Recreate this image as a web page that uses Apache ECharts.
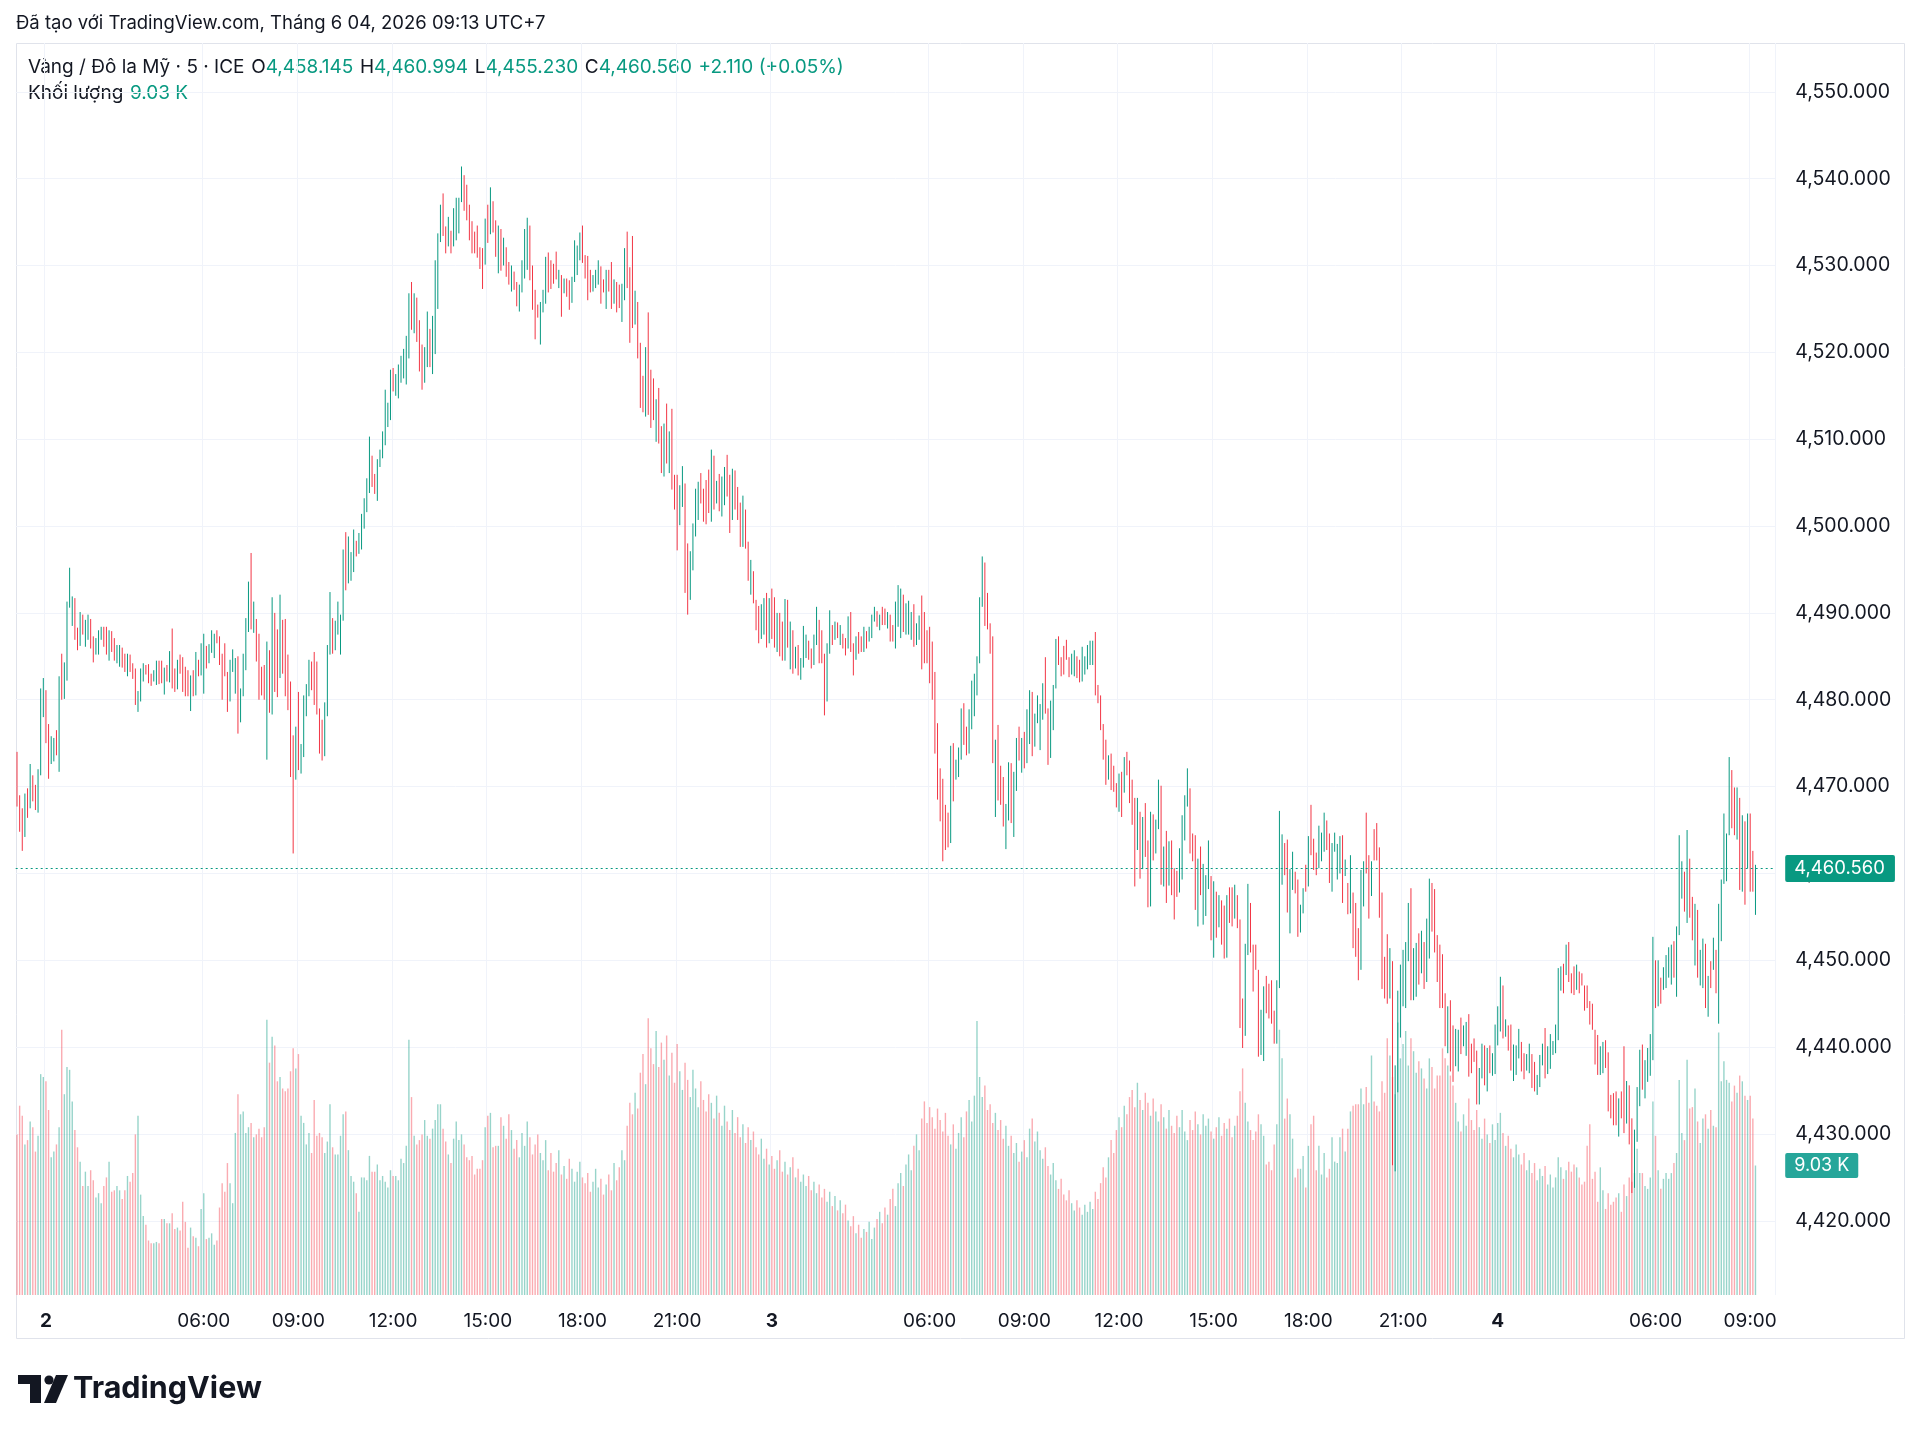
<!DOCTYPE html>
<html>
<head>
<meta charset="utf-8">
<title>XAU/USD 5m</title>
<script src="https://cdn.jsdelivr.net/npm/echarts@6/dist/echarts.min.js"></script>
<style>
  html, body { margin: 0; padding: 0; background: #fff; }
  #chart { width: 1920px; height: 1433px; }
</style>
</head>
<body>
<div id="chart"></div>
<script>
// trading sessions (UTC+7), 5-minute bars, daily break 04:00-05:00
const sessions = [
  [1, '23:05', '23:55'],
  [2, '00:00', '03:55'],
  [2, '05:00', '23:55'],
  [3, '00:00', '03:55'],
  [3, '05:00', '23:55'],
  [4, '00:00', '03:55'],
  [4, '05:00', '09:10'],
]
const shownTimes = ['00:00', '06:00', '09:00', '12:00', '15:00', '18:00', '21:00']
const priceTicks = [4420, 4430, 4440, 4450, 4460, 4470, 4480, 4490, 4500, 4510, 4520, 4530, 4540, 4550]

// [open, high, low, close]
const ohlc = [
  [4473.5,4474.0,4467.7,4468.5],[4468.5,4469.0,4464.8,4465.5],[4466.0,4467.5,4462.6,4463.5],[4464.5,4469.2,4464.2,4468.8],[4469.0,4469.8,4466.4,4467.0],[4467.5,4472.6,4467.5,4472.0],[4471.0,4471.3,4468.3,4469.0],[4469.5,4470.2,4467.3,4468.0],
  [4468.0,4472.0,4467.0,4471.5],[4471.5,4481.3,4471.3,4480.5],[4479.5,4482.5,4478.0,4482.0],[4481.0,4481.1,4475.0,4475.5],[4477.0,4477.2,4470.9,4472.0],[4472.8,4475.8,4472.6,4475.5],[4473.2,4475.6,4472.9,4475.0],[4476.0,4476.5,4473.6,4474.0],
  [4474.0,4482.7,4471.7,4482.0],[4484.5,4485.3,4480.0,4481.0],[4481.0,4484.3,4480.1,4484.0],[4483.5,4491.3,4482.2,4491.0],[4491.0,4495.2,4490.6,4495.0],[4489.0,4491.9,4488.5,4491.5],[4491.5,4491.7,4486.9,4487.5],[4488.0,4488.3,4485.7,4486.0],
  [4486.5,4490.1,4486.2,4489.5],[4489.5,4489.8,4487.5,4488.0],[4486.5,4489.2,4486.1,4489.0],[4487.0,4489.8,4486.9,4489.5],[4489.0,4489.3,4485.9,4486.5],[4487.0,4487.3,4484.3,4484.8],[4485.2,4487.1,4485.2,4486.8],[4485.5,4488.0,4485.2,4487.8],
  [4487.0,4488.4,4486.9,4488.2],[4488.2,4488.4,4486.1,4486.5],[4488.0,4488.4,4485.2,4485.5],[4485.0,4488.0,4484.5,4487.5],[4487.5,4487.9,4485.5,4485.8],[4486.8,4487.1,4484.5,4485.0],[4484.5,4486.3,4484.2,4486.0],[4484.0,4486.3,4483.8,4486.0],
  [4485.8,4486.0,4483.7,4484.0],[4485.0,4485.3,4483.2,4483.5],[4483.0,4485.3,4482.7,4485.0],[4485.0,4485.2,4483.2,4483.5],[4484.0,4484.2,4482.4,4482.6],[4483.2,4483.6,4479.4,4480.5],[4479.0,4481.0,4478.6,4480.8],[4480.5,4483.6,4479.8,4483.2],
  [4482.5,4484.2,4482.1,4484.0],[4483.8,4484.0,4482.9,4483.0],[4484.0,4484.1,4481.9,4482.2],[4482.8,4483.0,4481.6,4481.8],[4482.2,4483.4,4482.1,4483.2],[4482.0,4484.5,4481.7,4484.2],[4484.2,4484.5,4481.8,4482.0],[4484.2,4484.5,4481.9,4482.3],
  [4481.0,4483.7,4480.6,4483.4],[4483.8,4484.0,4482.1,4482.5],[4482.5,4485.6,4482.0,4485.3],[4485.5,4488.2,4481.3,4482.0],
  // 60
  [4483.5,4483.6,4480.9,4481.0],[4481.3,4484.6,4481.2,4484.3],[4485.0,4485.2,4483.0,4483.2],[4484.5,4484.9,4480.9,4481.5],[4483.5,4483.8,4480.4,4481.0],[4483.0,4483.4,4480.4,4480.8],[4480.8,4482.8,4478.7,4482.5],[4483.0,4483.4,4480.4,4480.6],
  [4480.8,4485.5,4480.5,4485.2],[4484.5,4484.6,4482.7,4483.0],[4483.0,4486.5,4482.8,4486.2],[4482.0,4487.6,4480.7,4487.4],[4486.0,4486.2,4483.6,4484.0],[4484.3,4486.4,4484.2,4486.2],[4485.6,4488.0,4485.4,4487.8],[4485.2,4487.6,4484.8,4487.3],
  [4487.8,4488.0,4486.5,4486.8],[4487.0,4487.3,4484.0,4484.5],[4485.0,4485.3,4480.0,4481.0],[4486.0,4486.5,4482.7,4483.0],[4483.0,4483.2,4478.6,4479.5],[4480.0,4484.6,4479.8,4484.3],[4483.5,4485.8,4483.2,4485.6],[4481.0,4484.8,4480.7,4484.5],
  [4484.8,4485.0,4476.1,4477.0],[4477.5,4481.3,4477.4,4481.0],[4480.6,4485.3,4480.4,4485.0],[4484.0,4489.4,4483.4,4489.0],[4488.5,4493.6,4487.8,4493.4],[4493.5,4496.9,4488.1,4489.0],[4488.0,4491.3,4487.7,4491.0],[4489.0,4489.3,4484.4,4485.0],
  [4487.0,4487.6,4480.0,4481.0],[4483.5,4483.8,4480.5,4481.0],[4483.6,4484.0,4480.0,4480.5],[4480.5,4486.7,4473.1,4485.8],[4485.5,4485.7,4478.5,4479.0],[4478.8,4491.8,4478.3,4491.3],[4490.0,4490.0,4480.9,4481.5],[4488.0,4488.1,4480.3,4481.0],
  [4483.0,4492.1,4482.5,4491.8],[4489.0,4489.2,4483.0,4486.5],[4489.0,4489.3,4480.4,4481.0],[4485.0,4485.2,4478.8,4479.5],[4481.8,4482.1,4471.1,4471.8],[4475.0,4475.9,4462.3,4466.0],[4471.0,4476.9,4470.8,4476.5],[4480.5,4480.9,4471.9,4472.5],
  [4472.0,4474.9,4471.5,4474.5],[4474.0,4480.5,4473.4,4480.2],[4478.3,4481.8,4478.1,4481.5],[4480.6,4484.6,4480.4,4484.3],[4484.3,4484.4,4481.1,4481.5],[4485.0,4485.5,4479.4,4480.0],[4484.0,4484.4,4478.3,4479.0],[4478.8,4479.0,4473.8,4474.5],
  [4477.5,4477.7,4473.0,4473.5],[4474.0,4479.7,4473.5,4479.5],[4478.5,4486.3,4478.1,4486.0],[4485.5,4492.4,4485.2,4492.0],
  // 120
  [4489.0,4489.4,4485.3,4486.0],[4486.0,4489.1,4485.7,4489.0],[4488.0,4491.3,4487.5,4491.0],[4486.0,4489.8,4485.2,4489.5],[4489.5,4497.3,4489.1,4497.0],[4497.5,4499.3,4492.6,4493.0],[4493.5,4498.8,4493.4,4498.0],[4494.0,4497.0,4493.7,4496.5],
  [4495.0,4499.6,4494.7,4499.0],[4498.0,4498.3,4496.5,4496.6],[4496.8,4499.2,4496.8,4499.0],[4497.5,4501.4,4497.3,4501.0],[4500.0,4503.2,4499.7,4503.0],[4502.0,4505.5,4501.6,4505.3],[4504.5,4510.3,4503.8,4510.0],[4508.0,4508.1,4504.5,4505.0],
  [4505.8,4506.0,4503.7,4504.0],[4503.5,4507.7,4502.9,4507.5],[4507.0,4508.8,4506.8,4508.6],[4508.0,4510.9,4507.8,4510.7],[4509.5,4515.7,4509.3,4515.5],[4511.5,4514.2,4511.4,4514.0],[4512.5,4518.0,4512.2,4517.8],[4518.0,4518.2,4515.5,4515.6],
  [4515.2,4517.5,4515.0,4517.2],[4515.0,4518.6,4514.7,4518.3],[4516.8,4519.6,4516.5,4519.4],[4517.3,4520.4,4517.0,4520.2],[4516.8,4521.9,4516.3,4521.7],[4520.0,4526.8,4519.3,4526.5],[4527.8,4528.1,4522.6,4523.0],[4522.5,4526.8,4522.2,4526.5],
  [4526.0,4526.3,4521.2,4521.5],[4523.5,4523.7,4517.8,4518.3],[4520.5,4520.9,4515.7,4516.0],[4517.0,4520.6,4516.5,4520.3],[4518.5,4524.7,4518.3,4524.5],[4522.5,4522.7,4518.3,4518.8],[4518.0,4524.2,4517.5,4524.0],[4520.5,4530.6,4519.8,4530.3],
  [4525.5,4533.7,4525.0,4533.5],[4533.0,4537.0,4532.7,4536.8],[4538.0,4538.3,4533.4,4534.0],[4534.3,4534.5,4531.4,4532.0],[4532.5,4535.6,4532.2,4535.3],[4533.8,4534.0,4531.4,4531.8],[4532.5,4536.6,4532.2,4536.3],[4533.5,4537.8,4532.9,4537.5],
  [4534.0,4537.8,4533.7,4537.5],[4537.5,4541.4,4537.3,4541.0],[4540.2,4540.4,4536.3,4536.8],[4539.0,4539.3,4535.2,4535.5],[4536.8,4537.0,4532.9,4533.2],[4535.0,4535.1,4531.4,4531.6],[4533.7,4533.9,4531.4,4531.6],[4534.3,4534.6,4530.9,4531.0],
  [4532.0,4532.1,4529.6,4529.8],[4531.8,4532.0,4527.3,4527.8],[4530.5,4535.4,4530.1,4535.0],
  // 179
  [4536.5,4537.0,4532.6,4533.0],[4534.0,4539.0,4533.6,4538.8],[4537.2,4537.4,4533.8,4534.0],[4535.0,4535.2,4531.0,4531.5],[4529.5,4534.6,4529.1,4534.3],[4534.0,4534.2,4529.4,4529.8],[4530.2,4533.2,4530.0,4533.0],[4532.0,4532.1,4528.7,4529.0],
  [4530.3,4530.4,4527.8,4528.0],[4527.3,4530.0,4527.0,4529.8],[4529.2,4529.3,4527.2,4527.4],[4528.0,4528.1,4525.3,4525.6],[4525.0,4527.8,4524.7,4527.5],[4527.0,4530.6,4526.9,4530.4],[4528.7,4534.2,4528.5,4534.0],[4530.0,4535.5,4529.5,4535.3],
  [4534.5,4534.6,4528.3,4528.7],[4529.8,4530.0,4524.9,4525.3],[4527.0,4527.2,4521.5,4522.0],[4525.3,4525.5,4524.0,4524.2],[4521.5,4525.8,4520.9,4525.5],[4524.8,4527.2,4524.6,4527.0],[4526.0,4531.0,4525.6,4530.8],[4531.2,4531.5,4526.9,4527.2],
  [4530.4,4530.6,4527.3,4527.5],[4530.0,4530.2,4527.9,4528.1],[4531.3,4531.6,4528.4,4528.6],[4527.6,4529.5,4527.4,4529.3],[4528.8,4528.9,4524.1,4524.5],[4527.0,4528.5,4526.8,4528.3],[4528.3,4528.5,4526.4,4526.6],[4528.0,4528.3,4524.9,4525.2],
  [4526.0,4528.7,4525.7,4528.5],[4528.5,4532.9,4528.1,4532.7],[4529.0,4532.3,4528.9,4532.0],[4531.0,4533.8,4530.6,4533.6],[4534.4,4534.6,4530.3,4530.5],[4531.0,4531.2,4528.5,4528.7],[4530.9,4531.1,4526.0,4526.5],[4529.3,4529.5,4526.9,4527.0],
  [4527.2,4528.9,4527.0,4528.7],[4527.6,4529.5,4527.4,4529.3],[4528.0,4530.6,4527.8,4530.4],[4529.7,4529.9,4525.6,4526.0],[4528.2,4528.4,4526.9,4527.0],[4525.3,4529.5,4525.0,4529.2],[4529.3,4529.5,4527.0,4527.2],[4530.2,4530.4,4525.0,4525.4],
  [4525.8,4528.4,4525.6,4528.2],[4528.0,4528.1,4524.6,4524.8],[4527.6,4527.8,4525.1,4525.3],[4523.8,4527.9,4523.5,4527.7],[4526.3,4532.0,4526.0,4531.8],[4533.5,4533.9,4527.4,4527.8],[4528.0,4529.8,4521.1,4522.0],[4531.0,4533.4,4522.8,4523.5],
  [4523.5,4527.1,4523.2,4526.8],[4525.6,4525.8,4519.3,4519.8],[4520.5,4521.1,4513.6,4514.5],
  // 238
  [4517.0,4517.3,4513.1,4513.6],[4513.2,4520.6,4512.6,4520.0],[4522.0,4524.6,4512.8,4514.0],[4517.5,4518.0,4511.3,4512.0],[4516.5,4517.0,4512.2,4512.8],[4510.2,4514.6,4509.7,4514.0],[4515.3,4515.9,4509.5,4510.0],[4511.0,4511.5,4506.1,4506.7],
  [4506.3,4511.8,4505.7,4511.2],[4513.5,4514.1,4507.2,4508.0],[4506.8,4510.9,4506.1,4510.3],[4512.8,4513.5,4504.2,4505.0],[4505.5,4505.9,4501.9,4502.4],[4505.2,4505.9,4497.2,4498.2],[4500.6,4504.7,4500.1,4504.2],[4502.8,4506.9,4502.2,4506.3],
  [4504.3,4504.9,4492.3,4493.5],[4497.3,4498.0,4489.8,4490.8],[4492.0,4497.1,4491.5,4496.5],[4495.5,4500.3,4494.9,4499.7],[4499.4,4504.3,4498.8,4503.7],[4501.2,4505.1,4500.7,4504.5],[4505.7,4506.1,4502.6,4503.0],[4503.8,4504.3,4500.5,4501.0],
  [4504.7,4505.3,4500.2,4500.8],[4506.0,4506.5,4501.5,4502.0],[4501.3,4508.8,4500.5,4508.0],[4507.5,4508.1,4501.9,4502.5],[4502.9,4505.2,4502.6,4504.9],[4505.5,4506.0,4501.7,4502.2],[4501.6,4505.7,4501.1,4505.1],[4502.9,4506.8,4502.4,4506.3],
  [4507.6,4508.2,4503.4,4504.0],[4505.2,4505.9,4499.2,4500.0],[4501.3,4506.6,4500.7,4506.0],[4505.9,4506.4,4501.9,4502.4],[4504.0,4504.5,4500.7,4501.2],[4502.1,4502.7,4497.6,4498.2],[4498.2,4503.5,4497.6,4502.9],[4501.4,4501.9,4497.4,4497.9],
  [4497.7,4498.2,4493.7,4494.2],[4492.6,4496.1,4492.1,4495.6],[4494.3,4494.8,4491.1,4491.6],[4491.2,4491.5,4488.0,4488.5],[4490.5,4490.8,4486.5,4487.5],[4487.5,4491.0,4487.0,4490.5],[4490.0,4491.7,4487.5,4491.0],[4491.0,4492.3,4486.0,4487.0],
  [4487.0,4491.7,4486.5,4490.5],[4490.5,4492.8,4487.0,4488.0],[4488.0,4491.8,4486.0,4486.5],[4486.5,4490.0,4485.5,4489.0],[4489.0,4490.0,4485.0,4486.0],[4487.0,4489.0,4484.5,4485.0],[4485.0,4491.6,4484.5,4490.5],[4490.5,4491.5,4486.0,4486.5],
  [4486.5,4489.0,4483.5,4487.5],[4487.5,4488.0,4483.0,4484.0],
  // 296
  [4484.0,4486.1,4483.6,4485.7],[4485.9,4486.3,4482.8,4483.3],[4482.7,4484.8,4482.3,4484.4],[4484.3,4488.5,4483.7,4488.0],[4485.2,4487.5,4484.8,4487.1],[4486.5,4486.8,4484.6,4485.0],[4485.5,4485.9,4483.6,4484.0],[4484.4,4487.5,4484.0,4487.1],
  [4486.8,4490.7,4486.3,4490.2],[4488.7,4489.2,4484.2,4484.8],[4487.5,4488.0,4484.2,4484.7],[4484.7,4485.3,4478.2,4479.0],[4480.5,4486.5,4479.8,4485.8],[4485.9,4490.3,4485.3,4489.7],[4488.3,4488.6,4486.3,4486.6],[4487.2,4489.0,4486.9,4488.7],
  [4488.6,4488.9,4487.1,4487.4],[4486.6,4488.6,4486.3,4488.3],[4487.3,4487.6,4485.9,4486.2],[4486.8,4487.1,4485.1,4485.4],[4486.3,4489.6,4485.9,4489.2],[4489.6,4490.1,4485.5,4486.0],[4486.1,4486.5,4482.8,4483.3],[4484.9,4487.3,4484.6,4487.0],
  [4487.5,4487.8,4485.3,4485.6],[4487.0,4487.3,4485.5,4485.8],[4485.8,4488.4,4485.5,4488.1],[4487.6,4487.9,4485.9,4486.2],[4486.9,4488.4,4486.7,4488.2],[4487.4,4489.8,4487.1,4489.5],[4489.2,4490.7,4489.0,4490.5],[4490.0,4490.2,4488.4,4488.7],
  [4488.3,4489.8,4488.0,4489.6],[4490.4,4490.7,4488.6,4488.9],[4490.2,4490.5,4488.6,4488.9],[4488.5,4490.1,4488.2,4489.8],[4489.5,4489.8,4486.7,4487.1],[4488.3,4488.6,4486.7,4487.0],[4486.5,4491.3,4485.9,4490.7],[4488.9,4493.2,4488.4,4492.7],
  [4487.7,4492.8,4487.1,4492.2],[4491.7,4492.1,4487.8,4488.3],[4487.9,4491.1,4487.5,4490.7],[4487.9,4491.4,4487.5,4491.0],[4487.3,4490.1,4486.9,4489.7],[4490.5,4491.0,4486.1,4486.6],[4486.6,4488.8,4486.3,4488.5],[4487.2,4489.7,4486.9,4489.4],
  [4491.2,4492.0,4483.5,4484.3],[4489.5,4490.1,4484.2,4484.8],[4487.6,4488.0,4484.2,4484.6],[4487.7,4488.4,4481.9,4482.6],[4486.0,4486.7,4480.0,4480.7],[4482.3,4483.2,4473.8,4474.8],[4476.4,4477.3,4468.5,4469.4],[4471.5,4472.1,4466.0,4466.6],
  [4470.0,4470.9,4461.4,4462.4],[4467.4,4467.9,4462.7,4463.2],[4466.5,4467.0,4463.0,4463.6],[4464.6,4474.7,4463.5,4473.6],[4474.3,4475.0,4468.3,4469.0],
  // 357
  [4471.0,4473.1,4470.8,4472.9],[4471.4,4474.5,4471.1,4474.2],[4473.7,4479.0,4473.1,4478.4],[4479.1,4479.6,4474.8,4475.3],[4476.6,4476.9,4473.6,4473.9],[4474.3,4478.9,4473.8,4478.4],[4477.2,4482.2,4476.6,4481.6],[4478.6,4483.0,4478.1,4482.5],
  [4481.0,4485.0,4480.5,4484.5],[4485.0,4491.8,4484.2,4491.0],[4491.3,4496.5,4490.7,4495.9],[4495.1,4495.8,4488.5,4489.2],[4491.9,4492.3,4488.1,4488.5],[4488.4,4488.8,4485.3,4485.7],[4485.8,4487.3,4472.7,4474.2],[4467.4,4475.4,4466.5,4474.5],
  [4476.2,4477.1,4468.4,4469.3],[4471.9,4472.4,4467.9,4468.4],[4470.5,4471.1,4465.4,4466.0],[4463.3,4468.0,4462.8,4467.5],[4466.8,4472.8,4466.1,4472.1],[4472.0,4472.7,4465.8,4466.5],[4465.0,4471.7,4464.2,4470.9],[4470.1,4475.6,4469.5,4475.0],
  [4476.5,4476.9,4473.0,4473.4],[4472.0,4475.6,4471.6,4475.2],[4475.9,4476.3,4472.1,4472.5],[4473.3,4478.9,4472.7,4478.3],[4475.5,4481.1,4474.9,4480.5],[4480.2,4480.9,4473.5,4474.2],[4475.0,4478.4,4474.6,4478.0],[4477.6,4480.5,4477.3,4480.2],
  [4474.7,4479.5,4474.2,4479.0],[4478.1,4481.9,4477.7,4481.5],[4484.2,4484.9,4478.4,4479.1],[4478.4,4479.0,4472.5,4473.2],[4473.9,4479.9,4473.3,4479.3],[4477.0,4481.7,4476.5,4481.2],[4481.9,4487.0,4481.3,4486.4],[4487.0,4487.3,4484.0,4484.3],
  [4484.6,4484.9,4482.7,4483.0],[4485.9,4486.2,4482.9,4483.2],[4486.6,4486.9,4484.6,4484.9],[4484.6,4484.9,4482.6,4482.9],[4483.2,4485.3,4482.9,4485.0],[4483.0,4485.7,4482.7,4485.4],[4484.7,4485.0,4482.5,4482.8],[4484.3,4484.6,4482.0,4482.3],
  [4482.5,4486.1,4482.1,4485.7],[4483.2,4485.0,4482.9,4484.7],[4483.8,4486.3,4483.5,4486.0],[4484.3,4486.8,4484.0,4486.5],[4484.3,4486.8,4484.0,4486.5],[4487.1,4487.8,4480.5,4481.2],[4481.4,4481.7,4479.6,4479.9],[4480.1,4480.5,4476.5,4476.9],
  [4476.8,4477.2,4473.1,4473.5],[4474.9,4475.4,4470.2,4470.7],[4471.1,4473.6,4470.8,4473.3],
  // 416
  [4473.4,4473.8,4469.6,4470.0],[4472.1,4472.4,4469.4,4469.7],[4470.1,4470.4,4467.6,4467.9],[4467.5,4471.5,4467.1,4471.1],[4471.2,4471.7,4466.5,4467.0],[4469.7,4473.4,4469.3,4473.0],[4473.7,4474.0,4471.3,4471.6],[4472.5,4473.0,4468.1,4468.6],
  [4470.3,4470.8,4465.6,4466.1],[4467.7,4468.7,4458.5,4459.5],[4463.3,4468.7,4462.7,4468.1],[4466.3,4467.1,4459.4,4460.2],[4461.1,4466.5,4460.5,4465.9],[4467.5,4468.1,4461.9,4462.5],[4463.0,4463.8,4456.1,4456.9],[4457.3,4467.1,4456.2,4466.0],
  [4466.3,4466.8,4461.5,4462.0],[4462.7,4466.2,4462.3,4465.8],[4465.7,4470.8,4465.1,4470.2],[4469.0,4470.1,4458.7,4459.8],[4459.0,4463.1,4458.5,4462.6],[4464.1,4464.9,4456.6,4457.4],[4459.1,4463.7,4458.6,4463.2],[4463.2,4463.8,4457.5,4458.1],
  [4460.0,4460.6,4454.7,4455.3],[4460.0,4460.3,4457.3,4457.6],[4458.3,4462.9,4457.8,4462.4],[4460.0,4466.7,4459.3,4466.0],[4464.3,4469.0,4463.8,4468.5],[4468.1,4472.1,4467.7,4471.7],[4469.1,4469.8,4462.3,4463.0],[4464.3,4464.6,4461.4,4461.7],
  [4463.5,4464.4,4455.8,4456.7],[4454.7,4461.7,4453.9,4460.9],[4462.5,4463.1,4457.5,4458.1],[4454.8,4461.1,4454.1,4460.4],[4455.6,4459.8,4455.1,4459.3],[4458.8,4463.8,4458.2,4463.2],[4459.0,4459.7,4452.3,4453.0],[4451.2,4459.1,4450.3,4458.2],
  [4457.4,4457.9,4452.6,4453.1],[4454.2,4457.5,4453.8,4457.1],[4456.4,4456.9,4451.8,4452.3],[4455.7,4456.3,4450.2,4450.8],[4451.0,4457.5,4450.3,4456.8],[4458.0,4458.4,4454.3,4454.7],[4457.9,4458.4,4453.9,4454.4],[4455.2,4458.7,4454.8,4458.3],
  [4457.1,4457.5,4453.7,4454.1],[4453.5,4454.7,4442.2,4443.5],[4445.0,4445.6,4439.9,4440.5],[4442.4,4451.9,4441.3,4450.8],[4451.4,4458.8,4450.6,4458.0],[4456.0,4456.6,4450.9,4451.5],[4451.3,4451.8,4446.4,4446.9],[4451.5,4451.8,4448.9,4449.2],
  [4447.9,4448.9,4438.9,4439.9],[4439.6,4444.3,4439.1,4443.8],[4439.3,4447.0,4438.4,4446.1],
  // 475
  [4447.8,4448.2,4443.9,4444.3],[4446.9,4447.3,4443.3,4443.7],[4447.2,4447.7,4442.7,4443.2],[4443.8,4444.2,4440.4,4440.8],[4441.1,4447.7,4440.4,4447.0],[4447.5,4467.2,4446.8,4465.0],[4459.3,4464.5,4458.7,4463.9],[4463.1,4463.5,4459.8,4460.2],
  [4463.0,4463.9,4455.5,4456.3],[4453.8,4460.5,4453.1,4459.8],[4458.5,4462.5,4458.1,4462.1],[4459.9,4460.2,4457.7,4458.0],[4458.6,4459.3,4452.7,4453.4],[4453.5,4456.4,4453.2,4456.1],[4455.7,4458.3,4455.4,4458.0],[4460.7,4461.0,4457.9,4458.2],
  [4459.1,4464.3,4458.5,4463.7],[4467.3,4467.9,4462.1,4462.7],[4463.6,4464.0,4460.4,4460.8],[4462.1,4462.4,4459.8,4460.1],[4461.1,4465.5,4460.6,4465.0],[4461.7,4464.7,4461.4,4464.4],[4462.9,4467.0,4462.5,4466.6],[4465.8,4466.1,4462.7,4463.0],
  [4464.0,4464.6,4458.9,4459.5],[4458.5,4463.5,4457.9,4462.9],[4462.7,4464.7,4462.5,4464.5],[4459.7,4463.4,4459.3,4463.0],[4460.4,4464.3,4460.0,4463.9],[4463.6,4464.4,4456.6,4457.4],[4459.9,4461.6,4459.7,4461.4],[4458.5,4458.9,4455.3,4455.7],
  [4456.1,4462.1,4455.4,4461.4],[4457.2,4457.8,4451.4,4452.0],[4456.0,4456.6,4450.4,4451.0],[4453.1,4453.7,4447.7,4448.3],[4450.0,4460.4,4448.9,4459.3],[4456.7,4461.4,4456.2,4460.9],[4466.3,4467.0,4460.0,4460.7],[4461.4,4462.1,4454.8,4455.5],
  [4457.8,4461.4,4457.4,4461.0],[4464.7,4465.1,4461.5,4461.9],[4465.4,4465.8,4461.5,4461.9],[4462.2,4463.0,4454.9,4455.7],[4456.7,4457.8,4446.7,4447.8],[4449.9,4450.4,4445.6,4446.1],[4452.2,4453.0,4445.0,4445.8],[4446.2,4451.4,4445.6,4450.8],
  [4449.0,4449.9,4426.4,4430.0],[4427.0,4437.9,4425.7,4436.8],[4436.0,4446.5,4434.8,4445.3],[4442.0,4449.5,4441.1,4448.6],[4445.4,4451.2,4444.7,4450.5],[4445.3,4452.1,4444.5,4451.3],[4450.6,4456.6,4449.9,4455.9],[4457.0,4458.3,4445.4,4446.7],
  [4446.0,4451.4,4445.4,4450.8],[4446.4,4452.0,4445.8,4451.4],[4452.5,4453.1,4447.2,4447.8],[4449.0,4453.4,4448.5,4452.9],
  // 535
  [4451.6,4452.1,4446.7,4447.2],[4448.2,4454.8,4447.5,4454.1],[4451.1,4459.4,4450.2,4458.5],[4458.3,4458.9,4453.3,4453.9],[4457.5,4458.2,4450.9,4451.6],[4452.4,4452.9,4447.5,4448.0],[4451.1,4451.8,4444.5,4445.2],[4450.1,4450.7,4444.5,4445.1],
  [4445.6,4446.2,4440.1,4440.7],[4439.8,4444.7,4439.3,4444.2],[4444.6,4445.4,4437.2,4438.0],[4441.9,4442.5,4436.0,4436.6],[4438.2,4442.1,4437.8,4441.7],[4437.7,4442.0,4437.2,4441.5],[4443.0,4443.4,4439.2,4439.6],[4440.3,4442.5,4440.1,4442.3],
  [4439.4,4442.9,4439.0,4442.5],[4443.1,4443.8,4436.6,4437.3],[4440.1,4440.4,4437.0,4437.3],[4440.7,4441.0,4438.3,4438.6],[4439.0,4439.6,4433.4,4434.0],[4433.8,4437.6,4433.4,4437.2],[4436.8,4440.4,4436.4,4440.0],[4439.7,4440.2,4435.6,4436.1],
  [4435.4,4439.9,4434.9,4439.4],[4439.9,4440.2,4437.0,4437.3],[4437.0,4439.3,4436.7,4439.0],[4437.5,4442.6,4436.9,4442.0],[4440.7,4444.7,4440.2,4444.2],[4442.4,4448.1,4441.8,4447.5],[4446.5,4447.1,4441.0,4441.6],[4441.4,4443.2,4441.2,4443.0],
  [4442.2,4442.5,4439.6,4439.9],[4442.1,4442.6,4437.3,4437.8],[4436.5,4440.3,4436.1,4439.9],[4437.1,4440.2,4436.8,4439.9],[4439.0,4442.1,4438.7,4441.8],[4440.3,4440.6,4437.2,4437.5],[4439.0,4439.3,4436.3,4436.6],[4437.5,4439.2,4437.3,4439.0],
  [4437.3,4440.4,4437.0,4440.1],[4438.8,4439.2,4435.3,4435.7],[4438.0,4438.3,4434.9,4435.2],[4434.7,4436.8,4434.5,4436.6],[4435.8,4439.1,4435.4,4438.7],[4438.1,4440.4,4437.9,4440.2],[4441.6,4442.2,4436.4,4437.0],[4437.2,4440.1,4436.9,4439.8],
  [4437.9,4441.5,4437.5,4441.1],[4439.3,4440.7,4439.1,4440.5],[4439.6,4442.6,4439.3,4442.3],[4441.6,4449.1,4440.8,4448.3],[4446.8,4449.3,4446.5,4449.0],[4449.3,4449.6,4446.2,4446.5],[4448.6,4451.8,4448.3,4451.5],[4451.6,4452.1,4447.5,4448.0],
  [4448.3,4448.5,4446.2,4446.4],[4449.0,4449.3,4446.0,4446.3],[4446.9,4449.5,4446.6,4449.2],
  // 594
  [4448.4,4448.7,4446.2,4446.5],[4448.3,4448.5,4447.1,4447.3],[4446.8,4447.1,4444.2,4444.5],[4446.8,4447.1,4444.5,4444.8],[4445.0,4445.3,4442.6,4442.9],[4444.7,4445.0,4442.0,4442.3],[4441.6,4442.0,4438.0,4438.4],[4440.9,4441.4,4436.8,4437.3],
  [4437.1,4440.1,4436.8,4439.8],[4437.4,4440.6,4437.0,4440.2],[4440.5,4440.8,4437.6,4437.9],[4438.7,4439.4,4432.6,4433.3],[4434.2,4434.5,4431.8,4432.1],[4434.3,4434.7,4431.0,4431.4],[4434.5,4434.9,4431.0,4431.4],[4430.1,4434.1,4429.7,4433.7],
  [4434.6,4434.9,4431.8,4432.1],[4439.1,4440.1,4430.1,4431.1],[4431.7,4436.1,4431.2,4435.6],[4434.9,4435.6,4428.8,4429.5],[4430.9,4431.8,4423.2,4424.1],[4424.5,4430.5,4423.8,4429.8],[4429.7,4435.4,4429.1,4434.8],[4433.9,4439.7,4433.2,4439.0],
  [4439.8,4440.3,4435.1,4435.6],[4434.5,4438.5,4434.1,4438.1],[4436.4,4439.9,4436.0,4439.5],[4437.2,4441.5,4436.7,4441.0],[4439.9,4452.7,4438.5,4451.3],[4449.5,4450.0,4444.5,4445.0],[4445.2,4450.0,4444.7,4449.5],[4447.7,4448.0,4445.0,4445.3],
  [4446.9,4449.2,4446.6,4448.9],[4447.2,4450.6,4446.8,4450.2],[4448.4,4451.5,4448.0,4451.1],[4447.7,4451.8,4447.2,4451.3],[4451.8,4452.2,4448.0,4448.4],[4446.6,4453.9,4445.8,4453.1],[4454.0,4464.4,4452.9,4463.3],[4457.5,4461.4,4457.1,4461.0],
  [4459.7,4460.2,4455.6,4456.1],[4455.3,4465.0,4454.3,4464.0],[4461.0,4461.7,4454.9,4455.6],[4456.8,4457.3,4452.3,4452.8],[4450.1,4456.5,4449.4,4455.8],[4455.0,4455.8,4448.0,4448.8],[4447.5,4451.2,4447.1,4450.8],[4447.4,4452.5,4446.8,4451.9],
  [4451.2,4451.9,4444.5,4445.2],[4444.0,4448.2,4443.5,4447.7],[4449.6,4449.9,4446.8,4447.1],[4449.3,4452.6,4448.9,4452.2],[4450.7,4451.2,4446.2,4446.7],[4444.1,4456.5,4442.7,4455.1],[4452.9,4459.3,4452.2,4458.6],[4459.6,4466.9,4458.8,4466.1],
  [4459.7,4464.6,4459.1,4464.0],[4465.3,4473.4,4464.4,4472.5],[4471.2,4471.9,4465.2,4465.9],[4469.3,4469.9,4464.4,4465.0],[4464.5,4469.9,4463.9,4469.3],[4467.6,4468.7,4458.1,4459.2],[4458.8,4466.7,4457.9,4465.8],[4465.0,4466.0,4456.4,4457.4],
  [4461.2,4466.9,4460.6,4466.3],[4466.0,4466.9,4457.9,4458.8],[4462.1,4462.6,4457.9,4458.45],[4458.145,4460.994,4455.23,4460.56],
]

// volume, thousands
const volume = [
  11.2,13.2,12.5,10.5,10.8,12.1,11.7,10.0,11.1,15.4,15.2,14.9,12.9,9.6,10.0,10.5,11.7,18.5,14.0,15.9,
  15.7,13.5,11.5,10.3,9.3,7.6,8.6,7.6,8.7,8.0,6.8,7.1,6.4,7.6,8.2,9.3,7.2,7.3,7.6,7.3,
  6.7,7.3,8.3,7.9,8.5,11.2,12.5,7.0,5.5,4.9,3.8,3.6,3.6,3.7,3.6,5.3,5.3,5.0,5.0,5.7,
  4.6,4.7,4.5,6.5,5.1,3.3,4.7,4.1,4.0,3.4,6.0,7.1,3.9,4.0,4.3,3.5,3.8,6.1,7.8,7.2,
  9.2,7.8,6.4,11.3,14.0,12.6,12.8,11.3,11.7,12.0,11.0,11.2,11.6,11.0,11.7,19.2,16.2,18.0,17.4,14.9,
  15.2,14.4,14.2,14.4,15.6,17.2,15.8,16.8,12.5,12.0,10.5,11.3,9.9,13.6,11.1,11.3,11.0,9.9,10.7,13.3,
  10.3,9.8,9.8,11.1,12.6,12.8,10.1,8.3,7.9,7.1,5.8,8.2,8.2,8.0,9.7,8.6,8.6,9.1,8.0,8.3,
  7.9,7.5,8.7,8.3,8.3,8.0,9.5,9.2,10.4,17.8,13.8,11.1,10.5,10.8,11.2,12.2,11.1,10.9,11.6,12.2,
  13.3,13.3,11.6,10.7,9.8,9.2,10.9,12.1,10.8,11.2,10.5,9.6,9.4,9.7,8.4,8.8,8.8,9.4,11.7,12.5,
  12.7,10.3,10.4,10.4,
  12.4,11.8,10.9,12.6,11.5,10.2,10.8,9.6,11.3,10.4,12.1,11.0,9.8,10.5,11.2,9.9,
  9.4,10.8,8.7,9.9,8.6,9.2,10.1,8.4,9.0,8.1,9.5,8.8,7.9,8.6,9.3,8.2,
  7.8,8.5,7.2,7.9,8.8,7.5,8.1,7.0,7.7,8.4,7.3,9.2,8.0,8.9,10.1,9.4,
  11.8,13.4,12.6,14.1,13.0,15.5,16.8,14.7,19.3,17.2,16.1,18.4,15.9,17.6,16.4,18.1,
  15.3,16.9,14.8,17.5,15.6,14.3,16.2,15.0,13.8,15.7,14.4,13.1,14.9,13.6,12.8,14.0,
  13.4,12.3,13.9,12.7,11.8,13.2,12.1,11.5,12.9,11.3,12.4,11.0,11.9,10.6,11.7,10.8,
  11.4,10.3,9.8,10.9,9.5,10.2,9.1,9.7,8.8,9.4,10.1,8.6,9.3,8.4,8.9,9.6,
  8.2,8.8,7.9,8.4,7.6,8.3,7.3,7.9,7.1,7.7,6.8,7.4,6.5,7.2,6.2,6.9,
  5.9,6.6,5.7,6.3,5.2,4.8,5.5,4.3,4.9,4.0,4.6,4.4,5.1,3.9,4.7,5.3,
  5.8,5.0,6.1,5.6,6.7,7.4,6.2,7.8,8.5,7.6,9.1,9.8,8.7,10.4,11.2,10.1,
  12.3,13.5,12.0,13.1,12.4,11.6,13.0,12.2,11.4,12.7,11.1,10.5,11.9,10.2,11.3,12.4,
  11.0,12.8,13.6,12.1,13.9,19.1,15.2,13.8,14.6,12.9,13.3,12.0,12.7,11.5,12.2,10.9,
  11.8,10.4,11.1,9.9,10.6,9.3,10.0,10.8,9.6,11.6,12.3,10.7,11.4,10.1,9.5,10.3,
  9.0,8.4,9.2,8.0,7.4,8.1,7.0,6.6,7.3,6.4,5.9,6.6,6.1,5.6,6.3,5.8,
  6.5,6.0,7.2,6.7,7.8,8.9,8.2,9.6,10.8,9.9,11.5,12.4,11.7,13.2,12.6,13.8,
  14.3,13.1,14.8,13.6,12.9,14.1,13.4,12.5,13.7,12.8,12.1,13.3,12.4,11.6,12.9,11.8,
  11.3,12.5,11.7,12.9,11.4,10.8,12.2,11.5,12.8,11.9,11.2,12.6,11.8,12.3,11.4,10.9,
  11.7,12.4,11.1,12.0,11.6,12.3,11.0,11.8,12.5,14.2,15.8,13.4,12.1,11.5,10.8,11.4,12.6,11.9,
  11.1,9.1,9.3,8.7,10.5,11.9,18.5,16.5,12.3,13.7,12.6,10.9,8.2,8.8,8.8,9.7,7.5,10.4,11.9,12.5,
  8.7,10.4,8.4,9.9,8.2,8.8,11.0,9.3,9.2,11.0,11.6,10.0,11.6,12.8,13.2,13.3,13.3,14.4,13.3,14.5,
  13.4,16.7,13.5,13.2,12.8,14.9,14.1,17.9,16.7,15.2,14.0,19.0,16.5,17.5,18.4,16.0,17.9,17.0,15.5,16.3,
  15.8,
  15.1,14.4,16.5,15.9,14.4,15.3,15.3,17.2,16.5,16.0,15.3,14.6,13.4,
  12.1,11.4,12.6,11.8,13.7,12.2,11.5,12.9,11.7,10.9,12.3,11.2,10.6,11.9,10.8,12.0,12.7,11.3,10.4,11.1,
  10.2,9.6,10.5,9.8,9.1,9.9,8.7,9.4,8.5,9.2,8.0,8.8,8.3,9.0,7.7,8.4,7.5,8.2,9.6,8.9,
  8.1,8.7,9.3,8.6,
  9.1,8.9,8.2,7.7,7.9,10.4,11.9,8.1,8.6,6.5,8.9,7.3,6.0,7.1,6.3,6.5,6.8,7.1,5.8,7.7,
  6.9,8.2,7.9,8.5,10.2,8.5,8.5,7.6,7.4,8.2,13.5,11.1,8.7,7.4,8.1,8.5,8.1,8.5,9.2,9.9,
  15.0,11.3,10.8,16.4,13.0,13.1,14.4,12.1,10.6,12.3,12.6,11.6,12.9,11.8,11.7,18.3,14.9,16.3,15.0,14.8,
  13.5,14.6,14.1,15.3,14.9,13.9,13.6,13.9,12.3,9.03,
]

const UP = '#089981'
const DOWN = '#F23645'
const TEXT = '#131722'
const FONT = 'Inter, Roboto, sans-serif'

const categories = []
sessions.forEach(([day, from, to]) => {
  let [h, m] = from.split(':').map(Number)
  const [h2, m2] = to.split(':').map(Number)
  while (h * 60 + m <= h2 * 60 + m2) {
    categories.push(day + ' ' + String(h).padStart(2, '0') + ':' + String(m).padStart(2, '0'))
    m += 5
    if (m === 60) { m = 0; h++ }
  }
})
// empty space right of the last bar
for (let k = 0; k < 7; k++) categories.push('')

const fmt = (v, d = 3) => v.toLocaleString('en-US', { minimumFractionDigits: d, maximumFractionDigits: d })

const candles = ohlc.map(([o, h, l, c]) => [o, c, l, h])
const volumeData = volume.map((v, i) => ({
  value: v * 1000,
  itemStyle: { color: ohlc[i][3] >= ohlc[i][0] ? 'rgba(8,153,129,0.42)' : 'rgba(242,54,69,0.42)' },
}))

const last = ohlc[ohlc.length - 1]
const prevClose = ohlc[ohlc.length - 2][3]
const change = last[3] - prevClose
const lastVol = volume[volume.length - 1]

const showTick = (idx, val) => !!val && shownTimes.includes(val.slice(-5))

const chart = echarts.init(document.getElementById('chart'))

chart.setOption({
  animation: false,
  backgroundColor: '#ffffff',
  grid: { left: 15.7, right: 144.8, top: 43, bottom: 138 },
  xAxis: {
    type: 'category',
    data: categories,
    boundaryGap: true,
    axisLine: { show: false },
    axisTick: { show: false },
    axisLabel: {
      interval: showTick,
      margin: 17,
      color: TEXT,
      fontFamily: FONT,
      fontSize: 19,
      formatter: (val) => {
        const [d, t] = val.split(' ')
        return t === '00:00' ? '{day|' + d + '}' : t
      },
      rich: { day: { fontWeight: 'bold', fontSize: 19, fontFamily: FONT, color: TEXT } },
    },
    splitLine: { show: true, interval: showTick, lineStyle: { color: '#f0f3fa', width: 1 } },
  },
  yAxis: [
    {
      type: 'value',
      position: 'right',
      min: 4411.46,
      max: 4555.62,
      axisLine: { show: false },
      axisTick: { show: false, customValues: priceTicks },
      axisLabel: {
        customValues: priceTicks,
        margin: 20,
        padding: [5, 0, 0, 0],
        color: TEXT,
        fontFamily: FONT,
        fontSize: 19.5,
        formatter: (v) => fmt(v),
      },
      splitLine: { show: true, lineStyle: { color: '#f0f3fa', width: 1 } },
    },
    {
      type: 'value',
      show: false,
      min: 0,
      max: 87300,
      splitLine: { show: false },
    },
  ],
  series: [
    {
      name: 'Volume',
      type: 'bar',
      yAxisIndex: 1,
      data: volumeData,
      barWidth: 1.4,
      z: 1,
      markLine: {
        silent: true,
        symbol: 'none',
        lineStyle: { color: 'rgba(0,0,0,0)', width: 0 },
        label: {
          show: true,
          position: 'end',
          distance: 10,
          formatter: () => fmt(lastVol, 2) + ' K',
          backgroundColor: '#26a69a',
          color: '#fff',
          fontFamily: FONT,
          fontSize: 18,
          padding: [4, 9, 3, 9],
          borderRadius: 2,
        },
        data: [{ yAxis: lastVol * 1000 }],
      },
    },
    {
      name: 'XAUUSD',
      type: 'candlestick',
      data: candles,
      barWidth: 2,
      z: 3,
      itemStyle: {
        color: UP,
        color0: DOWN,
        borderColor: UP,
        borderColor0: DOWN,
        borderWidth: 1,
      },
      markLine: {
        silent: true,
        symbol: 'none',
        lineStyle: { color: UP, type: [2, 3], width: 1 },
        label: {
          position: 'end',
          distance: 10,
          formatter: () => fmt(last[3]),
          backgroundColor: UP,
          color: '#fff',
          fontFamily: FONT,
          fontSize: 18.5,
          padding: [5, 10, 3, 9],
          borderRadius: 2,
        },
        data: [{ yAxis: last[3] }],
      },
    },
  ],
  graphic: [
    {
      type: 'rect',
      silent: true,
      shape: { x: 16.5, y: 43.5, width: 1888, height: 1295, r: 0 },
      style: { fill: 'none', stroke: '#e0e3eb', lineWidth: 1 },
      z: 0,
    },
    {
      type: 'text',
      left: 16,
      top: 14,
      style: {
        text: 'Đã tạo với TradingView.com, Tháng 6 04, 2026 09:13 UTC+7',
        fill: TEXT,
        font: '18.5px ' + FONT,
      },
    },
    {
      type: 'text',
      left: 28,
      top: 58,
      style: {
        text: '{t|Vàng / Đô la Mỹ · 5 · ICE}  {k|O}{v|' + fmt(last[0]) + '}  {k|H}{v|' + fmt(last[1]) +
          '}  {k|L}{v|' + fmt(last[2]) + '}  {k|C}{v|' + fmt(last[3]) + '}  {v|' +
          (change >= 0 ? '+' : '') + fmt(change) + ' (' + (change >= 0 ? '+' : '') + fmt(change / prevClose * 100, 2) + '%)}',
        rich: {
          t: { fill: TEXT, fontSize: 19, fontFamily: FONT },
          k: { fill: TEXT, fontSize: 19, fontFamily: FONT },
          v: { fill: UP, fontSize: 19, fontFamily: FONT },
        },
      },
    },
    {
      type: 'text',
      left: 28,
      top: 84,
      style: {
        text: '{t|Khối lượng}  {v|' + fmt(lastVol, 2) + ' K}',
        rich: {
          t: { fill: TEXT, fontSize: 19, fontFamily: FONT },
          v: { fill: UP, fontSize: 19, fontFamily: FONT },
        },
      },
    },
    // TradingView logo
    {
      type: 'group',
      left: 18,
      top: 1375,
      children: [
        { type: 'rect', shape: { x: 0, y: 0, width: 23, height: 9 }, style: { fill: TEXT } },
        { type: 'rect', shape: { x: 12, y: 0, width: 11, height: 28 }, style: { fill: TEXT } },
        { type: 'circle', shape: { cx: 31, cy: 5, r: 4.6 }, style: { fill: TEXT } },
        { type: 'polygon', shape: { points: [[38, 0], [50, 0], [38, 28], [26, 28]] }, style: { fill: TEXT } },
      ],
    },
    {
      type: 'text',
      left: 73,
      top: 1373,
      style: { text: 'TradingView', fill: TEXT, font: 'bold 30.5px ' + FONT },
    },
  ],
})
</script>
</body>
</html>
